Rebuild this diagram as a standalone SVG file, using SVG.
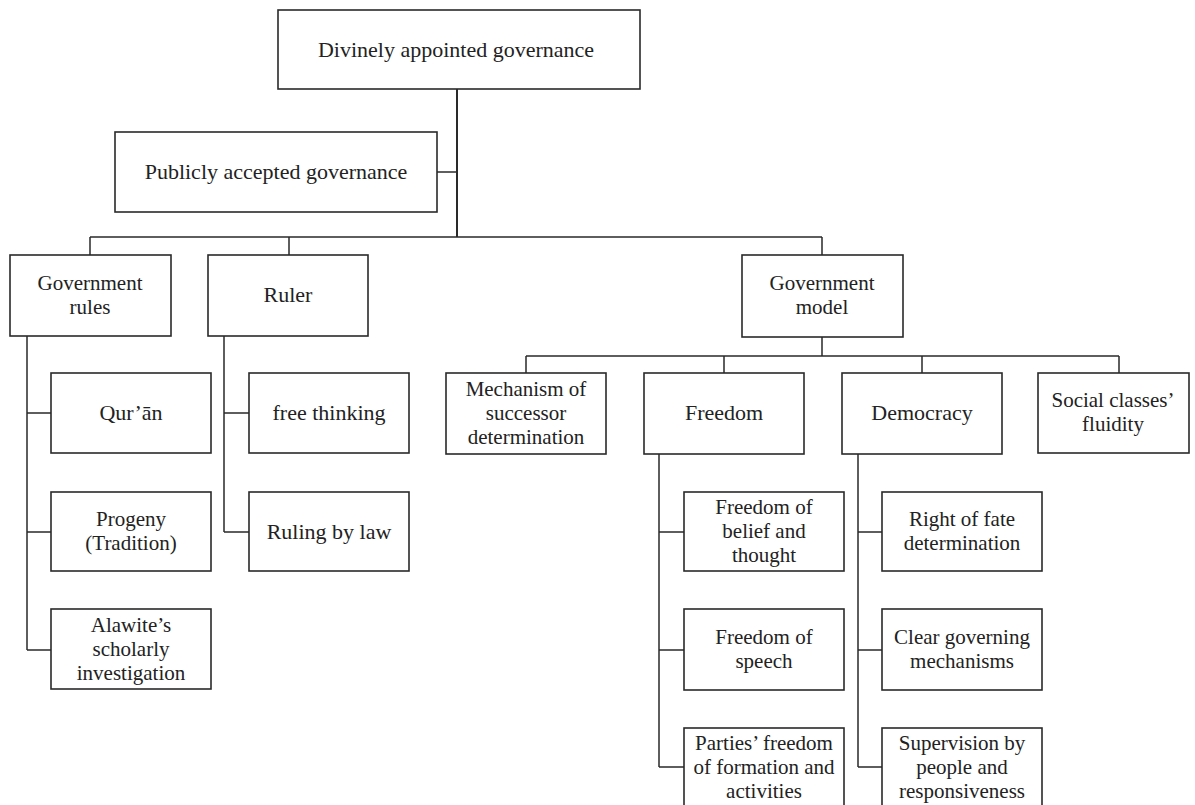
<svg xmlns="http://www.w3.org/2000/svg" width="1195" height="805" viewBox="0 0 1195 805">
<style>
.box{fill:#fff;stroke:#2a2a2a;stroke-width:1.6}
.t{font-family:"Liberation Serif","Times New Roman",serif;font-size:21px;fill:#222;text-anchor:middle}
.big{font-size:22px}
.c{fill:none;stroke:#2a2a2a;stroke-width:1.5}
</style>
<rect width="1195" height="805" fill="#fff"/>
<g id="connectors">
<path class="c" d="M457 89V237" style="stroke-width:2"/>
<path class="c" d="M437 172H457"/>
<path class="c" d="M90 237H822M90 237V255M289 237V255M822 237V255"/>
<path class="c" d="M27 336V650M27 413H51M27 532H51M27 650H51"/>
<path class="c" d="M224 336V532M224 413H249M224 532H249"/>
<path class="c" d="M822 337V356M526 356H1119M526 356V373M724 356V373M922 356V373M1119 356V373"/>
<path class="c" d="M659 454V767M659 532H684M659 650H684M659 767H684"/>
<path class="c" d="M858 454V767M858 532H882M858 650H882M858 767H882"/>
</g>
<g id="n-divine"><rect class="box" x="278" y="10" width="362" height="79"/><text class="t big" x="456" y="57">Divinely appointed governance</text></g>
<g id="n-public"><rect class="box" x="115" y="132" width="322" height="80"/><text class="t big" x="276" y="179">Publicly accepted governance</text></g>
<g id="n-govrules"><rect class="box" x="10" y="255" width="161" height="81"/><text class="t" x="90" y="290">Government</text><text class="t" x="90" y="314">rules</text></g>
<g id="n-ruler"><rect class="box" x="208" y="255" width="160" height="81"/><text class="t big" x="288" y="302">Ruler</text></g>
<g id="n-govmodel"><rect class="box" x="742" y="255" width="161" height="82"/><text class="t" x="822" y="290">Government</text><text class="t" x="822" y="314">model</text></g>
<g id="n-quran"><rect class="box" x="51" y="373" width="160" height="80"/><text class="t big" x="131" y="420">Qur’ān</text></g>
<g id="n-progeny"><rect class="box" x="51" y="492" width="160" height="79"/><text class="t" x="131" y="526">Progeny</text><text class="t" x="131" y="550">(Tradition)</text></g>
<g id="n-alawite"><rect class="box" x="51" y="609" width="160" height="80"/><text class="t" x="131" y="632">Alawite’s</text><text class="t" x="131" y="656">scholarly</text><text class="t" x="131" y="680">investigation</text></g>
<g id="n-free"><rect class="box" x="249" y="373" width="160" height="80"/><text class="t big" x="329" y="420">free thinking</text></g>
<g id="n-law"><rect class="box" x="249" y="492" width="160" height="79"/><text class="t big" x="329" y="539">Ruling by law</text></g>
<g id="n-mech"><rect class="box" x="446" y="373" width="160" height="81"/><text class="t" x="526" y="396">Mechanism of</text><text class="t" x="526" y="420">successor</text><text class="t" x="526" y="444">determination</text></g>
<g id="n-freedom"><rect class="box" x="644" y="373" width="160" height="81"/><text class="t big" x="724" y="420">Freedom</text></g>
<g id="n-democracy"><rect class="box" x="842" y="373" width="160" height="81"/><text class="t big" x="922" y="420">Democracy</text></g>
<g id="n-social"><rect class="box" x="1038" y="373" width="151" height="80"/><text class="t" x="1113" y="407">Social classes’</text><text class="t" x="1113" y="431">fluidity</text></g>
<g id="n-belief"><rect class="box" x="684" y="492" width="160" height="79"/><text class="t" x="764" y="514">Freedom of</text><text class="t" x="764" y="538">belief and</text><text class="t" x="764" y="562">thought</text></g>
<g id="n-speech"><rect class="box" x="684" y="609" width="160" height="81"/><text class="t" x="764" y="644">Freedom of</text><text class="t" x="764" y="668">speech</text></g>
<g id="n-parties"><rect class="box" x="684" y="728" width="160" height="80"/><text class="t" x="764" y="750">Parties’ freedom</text><text class="t" x="764" y="774">of formation and</text><text class="t" x="764" y="798">activities</text></g>
<g id="n-fate"><rect class="box" x="882" y="492" width="160" height="79"/><text class="t" x="962" y="526">Right of fate</text><text class="t" x="962" y="550">determination</text></g>
<g id="n-clear"><rect class="box" x="882" y="609" width="160" height="81"/><text class="t" x="962" y="644">Clear governing</text><text class="t" x="962" y="668">mechanisms</text></g>
<g id="n-super"><rect class="box" x="882" y="728" width="160" height="80"/><text class="t" x="962" y="750">Supervision by</text><text class="t" x="962" y="774">people and</text><text class="t" x="962" y="798">responsiveness</text></g>
</svg>
